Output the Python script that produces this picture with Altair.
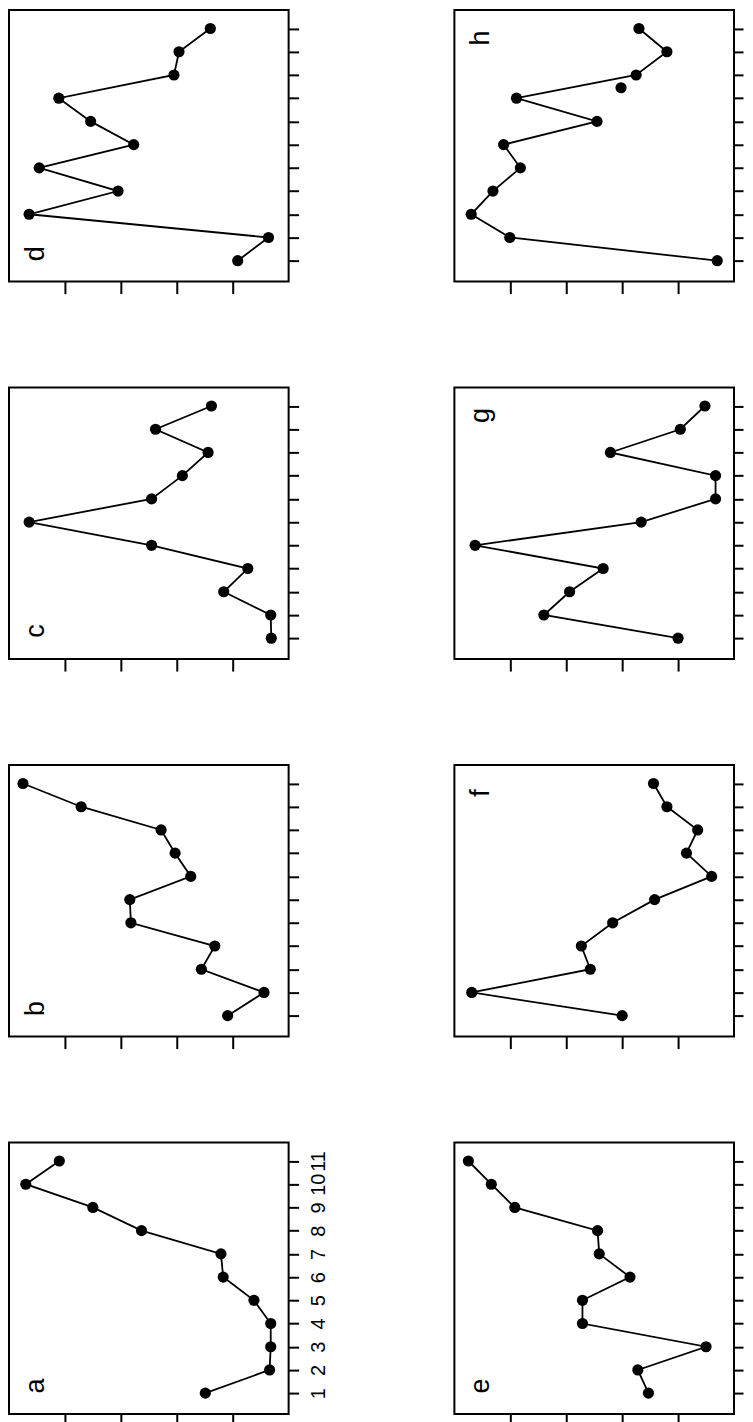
import altair as alt
import pandas as pd

# ---- data (index 1..11) ----
idx = list(range(1, 12))
a_vals = [1.49, 0.34, 0.32, 0.32, 0.62, 1.17, 1.21, 2.63, 3.50, 4.70, 4.10]
b_vals = [1.09, 0.44, 1.56, 1.32, 2.82, 2.84, 1.75, 2.03, 2.28, 3.71, 4.75]
c_vals = [0.31, 0.32, 1.16, 0.73, 2.45, 4.64, 2.45, 1.90, 1.44, 2.38, 1.38]
d_vals = [0.91, 0.36, 4.64, 3.05, 4.46, 2.77, 3.54, 4.11, 2.05, 1.96, 1.40]
e_vals = [1.53, 1.72, 0.50, 2.71, 2.71, 1.86, 2.41, 2.44, 3.92, 4.34, 4.75]
f_vals = [2.00, 4.69, 2.57, 2.73, 2.17, 1.42, 0.40, 0.85, 0.65, 1.20, 1.44]
g_vals = [1.00, 3.40, 2.94, 2.34, 4.63, 1.66, 0.33, 0.33, 2.21, 0.96, 0.52]
h_vals = [0.30, 4.01, 4.70, 4.31, 3.82, 4.12, 2.45, 3.89, 1.75, 1.20, 1.70]
h_extra_idx = [8.45]
h_extra_val = [2.02]

value_ticks = [1, 2, 3, 4]
panel_names = ["a", "b", "c", "d", "e", "f", "g", "h"]
panel_vals = [a_vals, b_vals, c_vals, d_vals, e_vals, f_vals, g_vals, h_vals]
label_at_top = {"a": False, "b": False, "c": False, "d": False,
                "e": False, "f": True, "g": True, "h": True}
right_column = {"e", "f", "g", "h"}

W, H = 280, 272
FONT = "Liberation Sans"


def make_panel(name, vals, show_labels, extra=None):
    df = pd.DataFrame({"i": idx, "v": vals})
    x = alt.X("v:Q",
              scale=alt.Scale(domain=[0, 5], reverse=True, nice=False, zero=False),
              axis=alt.Axis(orient="bottom", values=value_ticks, labels=False,
                            title=None, domain=False, grid=False, ticks=True,
                            tickSize=12, tickWidth=2, tickColor="black"))
    y = alt.Y("i:Q",
              scale=alt.Scale(domain=[0.1, 11.8], nice=False, zero=False),
              axis=alt.Axis(orient="right", values=idx, labels=show_labels,
                            labelAngle=270, labelAlign="center", labelBaseline="top",
                            labelFontSize=20, labelFont=FONT, labelColor="black",
                            labelPadding=10, labelOverlap=False, labelFlush=False,
                            tickSize=9 if name in right_column else 10,
                            tickWidth=2, tickColor="black",
                            domain=False, grid=False, title=None))
    base = alt.Chart(df)
    line = base.mark_line(color="black", strokeWidth=1.8).encode(x=x, y=y, order="i:Q")
    pts = base.mark_circle(color="black", opacity=1, size=125).encode(x=x, y=y)
    ypos = 28 if label_at_top[name] else H - 28
    lab = alt.Chart(pd.DataFrame({"t": [name]})).mark_text(
        angle=270, fontSize=27, font=FONT, color="black",
        align="center", baseline="middle").encode(
        text="t:N", x=alt.value(27), y=alt.value(ypos))
    layers = [line, pts]
    if extra is not None:
        edf = pd.DataFrame({"i": extra[0], "v": extra[1]})
        layers.append(alt.Chart(edf).mark_circle(color="black", opacity=1, size=125)
                      .encode(x=x, y=y))
    layers.append(lab)
    return alt.layer(*layers).properties(width=W, height=H)


charts = {}
for n, v in zip(panel_names, panel_vals):
    extra = (h_extra_idx, h_extra_val) if n == "h" else None
    charts[n] = make_panel(n, v, n == "a", extra)

left = alt.vconcat(charts["d"], charts["c"], charts["b"], charts["a"],
                   spacing=106, bounds="flush")
right = alt.vconcat(charts["h"], charts["g"], charts["f"], charts["e"],
                    spacing=106, bounds="flush")

chart = alt.hconcat(left, right, spacing=124).properties(
    padding=0, background="white"
).configure_view(stroke="black", strokeWidth=2)

chart.save("out.html", embed_options={"renderer": "svg", "actions": False})
